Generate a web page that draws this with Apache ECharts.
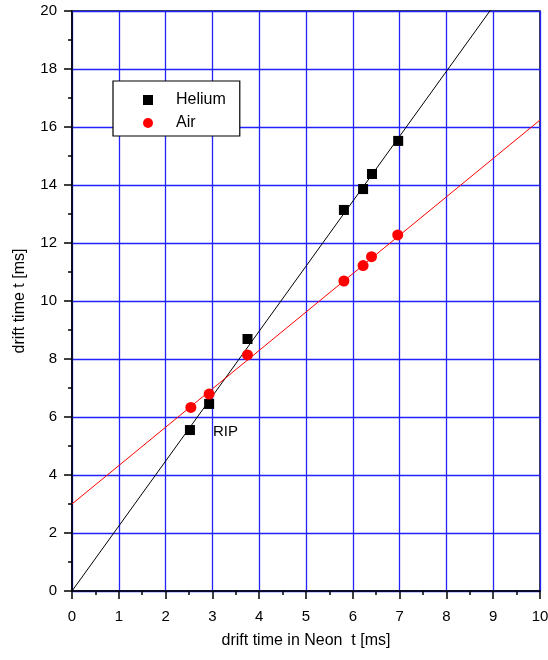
<!DOCTYPE html>
<html>
<head>
<meta charset="utf-8">
<script src="https://cdn.jsdelivr.net/npm/echarts@6/dist/echarts.min.js"></script>
<style>html,body{margin:0;padding:0;background:#fff}#c{width:548px;height:660px}</style>
</head>
<body>
<div id="c"></div>
<script>
var heliumX = [2.52, 2.93, 3.75, 5.81, 6.22, 6.41, 6.97];
var heliumY = [5.55, 6.45, 8.69, 13.14, 13.86, 14.38, 15.52];
var airX = [2.54, 2.93, 3.75, 5.81, 6.22, 6.40, 6.96];
var airY = [6.33, 6.79, 8.14, 10.69, 11.22, 11.53, 12.28];
var heliumFit = [[0, 0], [10, 22.4]];
var airFit = [[0, 3.0], [10, 16.24]];
var xName = 'drift time in Neon  t [ms]';
var yName = 'drift time t [ms]';
var ripLabel = 'RIP';

var font = 'Liberation Sans, Arial, sans-serif';
var heliumData = heliumX.map(function (x, i) {
  var d = { value: [x, heliumY[i]] };
  if (i === 0) {
    d.label = { show: true, formatter: ripLabel, position: 'right', distance: 18, offset: [0, 2], color: '#000', fontSize: 15, fontFamily: font };
  }
  return d;
});
var airData = airX.map(function (x, i) { return [x, airY[i]]; });

var chart = echarts.init(document.getElementById('c'), null, { renderer: 'canvas' });
function axisBase() {
  return {
    axisLine: { show: true, onZero: false, lineStyle: { color: '#000', width: 1.5 } },
    axisTick: { show: true, inside: false, length: 8, lineStyle: { color: '#000', width: 1.5 } },
    minorTick: { show: true, splitNumber: 2, length: 4, lineStyle: { color: '#000', width: 1.5 } },
    splitLine: { show: true, lineStyle: { color: '#2222ff', width: 1.3, opacity: 1 } },
    minorSplitLine: { show: false },
    axisLabel: { color: '#000', fontSize: 15, fontFamily: font },
    nameLocation: 'middle',
    nameTextStyle: { color: '#000', fontSize: 16, fontFamily: font }
  };
}
var xa = axisBase();
xa.type = 'value'; xa.min = 0; xa.max = 10; xa.interval = 1; xa.name = xName; xa.nameGap = 42;
xa.axisLabel.margin = 18;
var ya = axisBase();
ya.type = 'value'; ya.min = 0; ya.max = 20; ya.interval = 2; ya.name = yName; ya.nameGap = 44;
ya.axisLabel.margin = 15;

chart.setOption({
  animation: false,
  backgroundColor: '#fff',
  grid: { left: 72, right: 8, top: 11, bottom: 69, show: true, borderColor: '#000', borderWidth: 1.5,
          backgroundColor: 'transparent', containLabel: false, outerBoundsMode: 'none' },
  xAxis: xa,
  yAxis: ya,
  legend: {
    left: 113, top: 81, orient: 'vertical',
    padding: [11, 14, 5, 30],
    itemGap: 7, itemWidth: 10, itemHeight: 10,
    borderColor: '#000', borderWidth: 1.2, backgroundColor: '#fff',
    textStyle: { color: '#000', fontSize: 16, fontFamily: font, padding: [0, 0, 0, 18] },
    data: [{ name: 'Helium', icon: 'rect' }, { name: 'Air', icon: 'circle' }]
  },
  series: [
    { name: 'HeliumFit', type: 'line', data: heliumFit, showSymbol: false, clip: true, silent: true,
      lineStyle: { color: '#000', width: 1 }, z: 2 },
    { name: 'AirFit', type: 'line', data: airFit, showSymbol: false, clip: true, silent: true,
      lineStyle: { color: '#ff0000', width: 1 }, z: 2 },
    { name: 'Helium', type: 'scatter', data: heliumData, symbol: 'rect', symbolSize: 10,
      itemStyle: { color: '#000', opacity: 1 }, z: 3 },
    { name: 'Air', type: 'scatter', data: airData, symbol: 'circle', symbolSize: 11,
      itemStyle: { color: '#ff0000', opacity: 1 }, z: 3 }
  ]
});
</script>
</body>
</html>
